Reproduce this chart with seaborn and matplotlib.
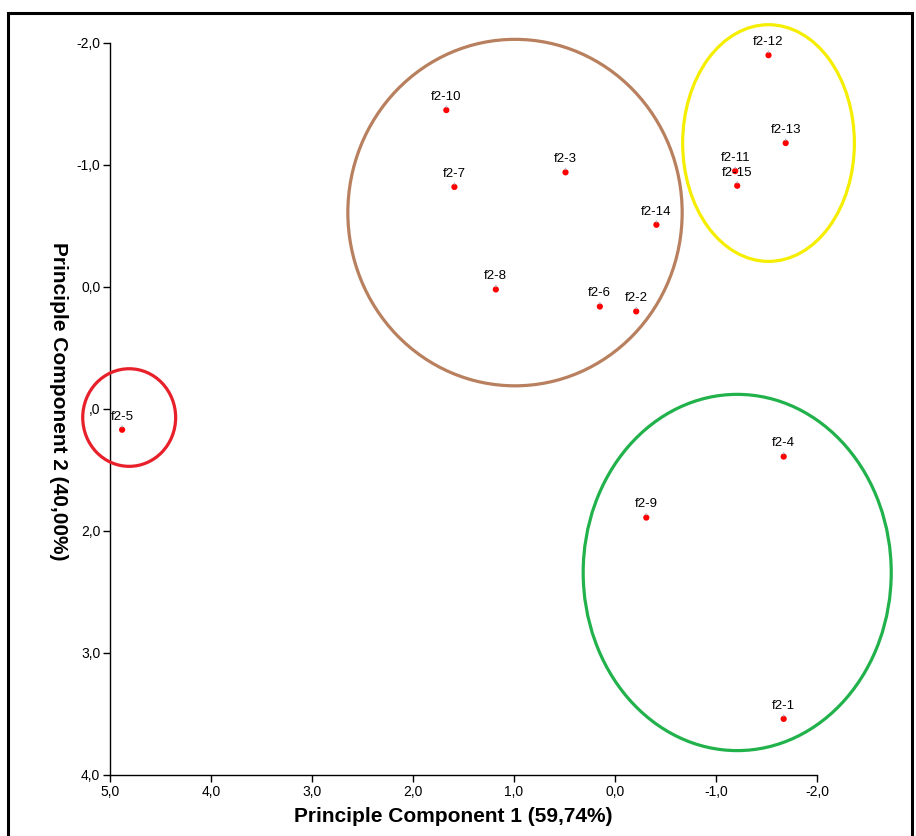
import matplotlib
matplotlib.use("Agg")
import matplotlib.pyplot as plt
import seaborn as sns
import pandas as pd
from matplotlib.patches import Ellipse, Rectangle

# ---- data ----
labels = ["f2-1", "f2-2", "f2-3", "f2-4", "f2-5", "f2-6", "f2-7", "f2-8",
          "f2-9", "f2-10", "f2-11", "f2-12", "f2-13", "f2-14", "f2-15"]
pc1 = [-1.67, -0.21, 0.49, -1.67, 4.88, 0.15, 1.59, 1.18,
       -0.31, 1.67, -1.19, -1.52, -1.69, -0.41, -1.21]
pc2 = [3.54, 0.20, -0.94, 1.39, 1.17, 0.16, -0.82, 0.02,
       1.89, -1.45, -0.95, -1.90, -1.18, -0.51, -0.83]

# cluster ellipses: center x, center y, width, height, colour
ell_cx = [0.99, -1.52, 4.81, -1.21]
ell_cy = [-0.61, -1.18, 1.07, 2.34]
ell_w = [3.31, 1.70, 0.92, 3.05]
ell_h = [2.84, 1.94, 0.80, 2.92]
ell_col = ["#b8805e", "#f5ee00", "#e8202a", "#22b24c"]

xticks = [5.0, 4.0, 3.0, 2.0, 1.0, 0.0, -1.0, -2.0]
xticklabels = ["5,0", "4,0", "3,0", "2,0", "1,0", "0,0", "-1,0", "-2,0"]
yticks = [-2.0, -1.0, 0.0, 1.0, 2.0, 3.0, 4.0]
yticklabels = ["-2,0", "-1,0", "0,0", ",0", "2,0", "3,0", "4,0"]

df = pd.DataFrame({"PC1": pc1, "PC2": pc2, "label": labels})

sns.set_style("white")
plt.rcParams["font.family"] = ["Liberation Sans", "DejaVu Sans"]

fig = plt.figure(figsize=(9.16, 8.36), dpi=100)
ax = fig.add_axes([110/916, 1-775/836, (817-110)/916, (775-43)/836])

sns.scatterplot(data=df, x="PC1", y="PC2", ax=ax, color="#ff0000",
                s=20, edgecolor="none", zorder=5, legend=False)

ax.set_xlim(5.0, -2.0)
ax.set_ylim(4.0, -2.0)

for cx, cy, w, h, c in zip(ell_cx, ell_cy, ell_w, ell_h, ell_col):
    e = Ellipse((cx, cy), w, h, fill=False, edgecolor=c, linewidth=2.3,
                clip_on=False, zorder=3)
    ax.add_patch(e)

# point labels with small leader lines
for x, y, t in zip(pc1, pc2, labels):
    ax.annotate(t, xy=(x, y), xytext=(0, 9.5), textcoords="offset points",
                ha="center", va="center", fontsize=9.5, color="black",
                arrowprops=dict(arrowstyle="-", color="#a8b8cc", lw=1,
                                shrinkA=3, shrinkB=2),
                zorder=6)

ax.set_xticks(xticks)
ax.set_xticklabels(xticklabels)
ax.set_yticks(yticks)
ax.set_yticklabels(yticklabels)
ax.tick_params(axis="both", direction="out", length=5, width=1, color="black",
               labelsize=10, labelcolor="black", pad=2, left=True, bottom=True)

for s in ["top", "right"]:
    ax.spines[s].set_visible(False)
for s in ["left", "bottom"]:
    ax.spines[s].set_color("black")
    ax.spines[s].set_linewidth(1)

ax.set_xlabel("Principle Component 1 (59,74%)", fontsize=15, fontweight="bold",
              color="black")
ax.set_ylabel("Principle Component 2 (40,00%)", fontsize=15, fontweight="bold",
              color="black", rotation=270, va="center")
ax.yaxis.set_label_coords(-0.073, 0.51)
ax.xaxis.set_label_coords(0.486, -0.044)

# outer frame
fig.patches.append(Rectangle((8/916, -0.01), (912-8)/916, 1 - 13/836 + 0.01,
                             transform=fig.transFigure, fill=False,
                             edgecolor="black", linewidth=2.2))

fig.savefig("out.png", dpi=100, facecolor="white")
